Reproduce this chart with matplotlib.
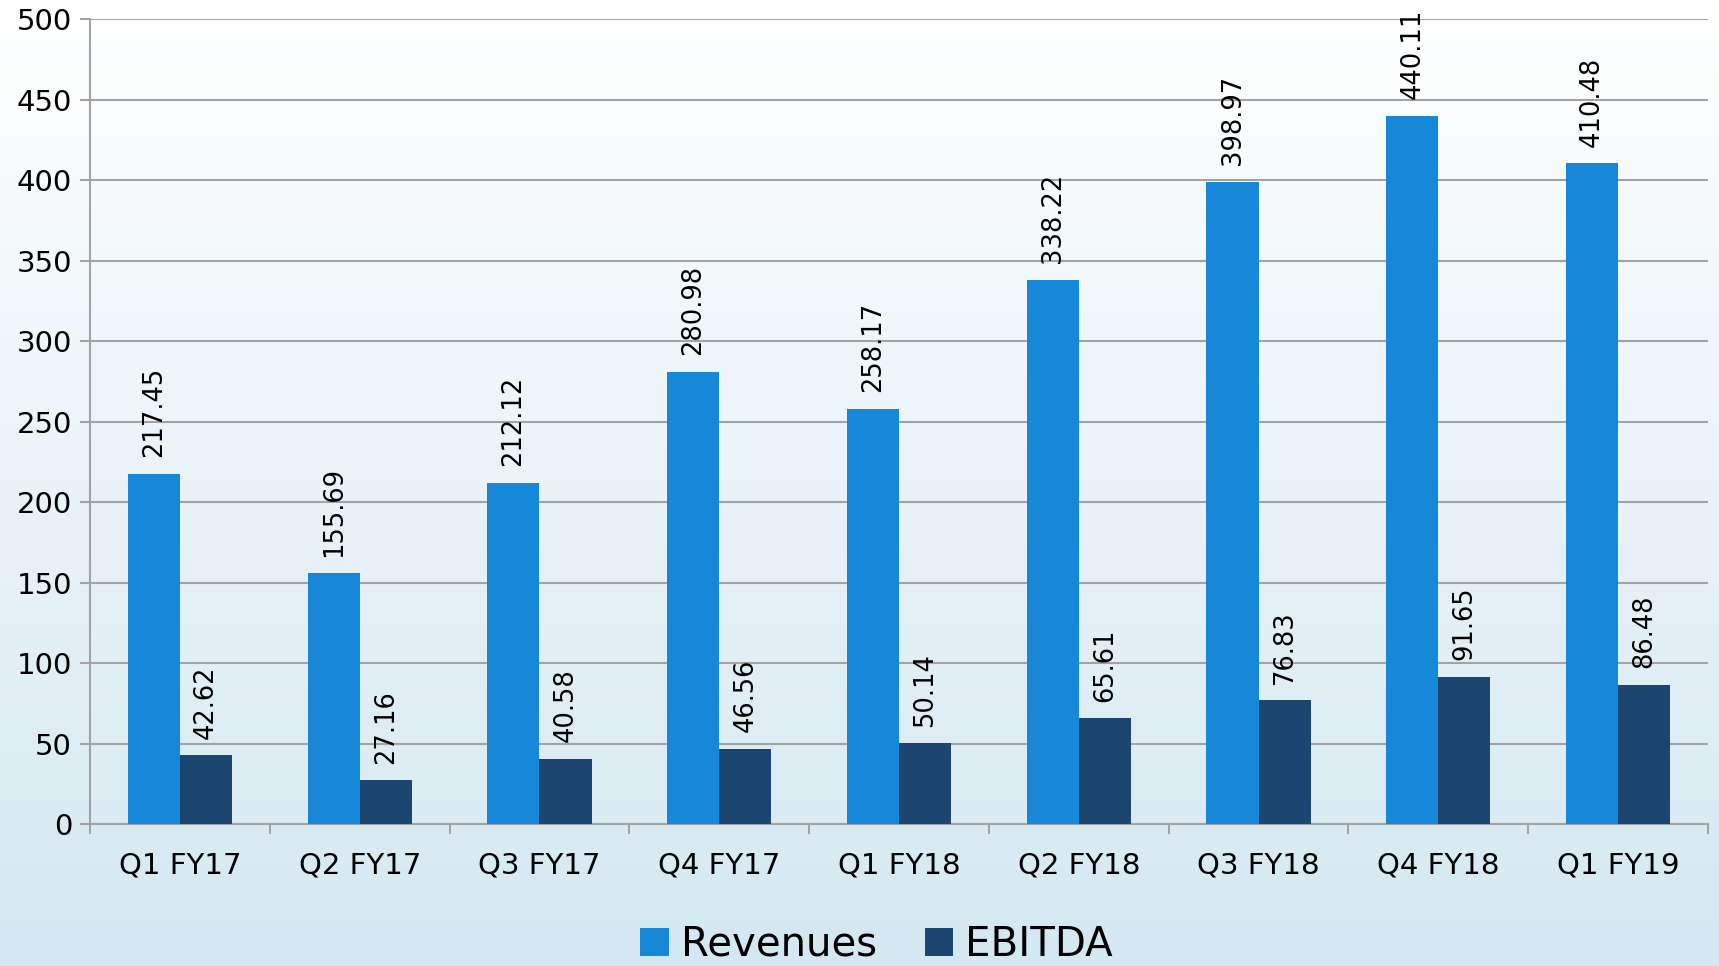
import numpy as np
import matplotlib.pyplot as plt

quarters = ['Q1 FY17', 'Q2 FY17', 'Q3 FY17', 'Q4 FY17', 'Q1 FY18',
            'Q2 FY18', 'Q3 FY18', 'Q4 FY18', 'Q1 FY19']
revenues = [217.45, 155.69, 212.12, 280.98, 258.17, 338.22, 398.97, 440.11, 410.48]
ebitda = [42.62, 27.16, 40.58, 46.56, 50.14, 65.61, 76.83, 91.65, 86.48]

rev_color = '#1787d7'
ebitda_color = '#1c466f'

plt.rcParams['font.family'] = ['DejaVu Sans']

fig = plt.figure(figsize=(17.19, 9.66), dpi=100)

# soft background gradient, white at top to pale blue at bottom
bg = fig.add_axes([0, 0, 1, 1], zorder=-10)
grad = np.linspace(0, 1, 256).reshape(-1, 1)
top = np.array([1.0, 1.0, 1.0])
bottom = np.array([0.83, 0.91, 0.945])
img = top + (bottom - top) * grad[:, :, None]
bg.imshow(img, aspect='auto', extent=[0, 1, 0, 1])
bg.axis('off')

ax = fig.add_axes([0.0524, 0.147, 0.9412, 0.833])
ax.patch.set_alpha(0)

x = np.arange(len(quarters))
w = 0.29
b1 = ax.bar(x - w / 2, revenues, w, color=rev_color, label='Revenues', zorder=3)
b2 = ax.bar(x + w / 2, ebitda, w, color=ebitda_color, label='EBITDA', zorder=3)

for bars, vals in [(b1, revenues), (b2, ebitda)]:
    for b, v in zip(bars, vals):
        ax.annotate(f'{v:.2f}', (b.get_x() + b.get_width() / 2, v),
                    xytext=(0, 12), textcoords='offset points',
                    rotation=90, ha='center', va='bottom', fontsize=18.5,
                    color='black', zorder=4)

ax.set_xlim(-0.5, len(quarters) - 0.5)
ax.set_ylim(0, 500)
ax.set_yticks(np.arange(0, 501, 50))
ax.set_xticks(x)
ax.set_xticklabels(quarters)
ax.set_xticks(np.arange(-0.5, len(quarters), 1), minor=True)

ax.grid(axis='y', color='#a3a3a3', linewidth=1.5, zorder=0)
ax.tick_params(axis='y', length=7, width=1.5, color='#a3a3a3', labelsize=21, pad=6)
ax.tick_params(axis='x', which='major', length=0, labelsize=21, pad=20)
ax.tick_params(axis='x', which='minor', length=7, width=1.5, color='#a3a3a3')

for s in ['top', 'right']:
    ax.spines[s].set_visible(False)
for s in ['left', 'bottom']:
    ax.spines[s].set_color('#a3a3a3')
    ax.spines[s].set_linewidth(1.5)

fig.legend(handles=[b1, b2], loc='center', bbox_to_anchor=(0.51, 0.022),
           ncol=2, frameon=False, fontsize=29, handlelength=0.7,
           handleheight=0.7, handletextpad=0.3, columnspacing=1.2)

fig.savefig('out.png', dpi=100)
